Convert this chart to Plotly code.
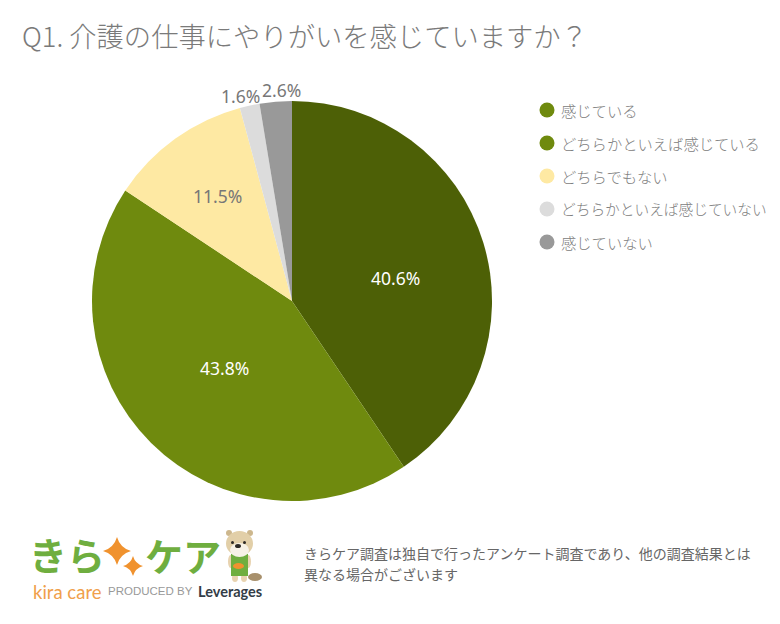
import plotly.graph_objects as go

W, H = 780, 624
FONT = "Noto Sans CJK JP"

labels = ["感じている", "どちらかといえば感じている", "どちらでもない", "どちらかといえば感じていない", "感じていない"]
values = [40.6, 43.8, 11.5, 1.6, 2.6]
slice_colors = ["#4d6006", "#6f8a0e", "#fee9a3", "#dcdcdc", "#999999"]
legend_colors = ["#6f8a0e", "#6f8a0e", "#fee9a3", "#dcdcdc", "#999999"]
legend_sizes = [15.3, 15.3, 15.3, 14.7, 15.3]
text_colors = ["#ffffff", "#ffffff", "#777777", "#777777", "#777777"]
label_x = [395, 225, 217, 240, 281]
label_y = [278, 368, 196, 96, 90]
title = "Q1. 介護の仕事にやりがいを感じていますか？"
note_lines = ["きらケア調査は独自で行ったアンケート調査であり、他の調査結果とは", "異なる場合がございます"]


# pixel position to paper coords
def px(x):
    return x / W


def py(y):
    return 1 - y / H


def note_text(x, y, text, size, color, anchor="left", weight=400, family=FONT):
    fig.add_annotation(x=px(x), y=py(y), xref="paper", yref="paper", text=text, showarrow=False,
                       xanchor=anchor, yanchor="middle", align="left",
                       font=dict(size=size, color=color, family=family, weight=weight))


def star(cx, cy, r, color):
    k = r * 0.22
    path = (f"M {px(cx)} {py(cy - r)} Q {px(cx + k)} {py(cy - k)} {px(cx + r)} {py(cy)} "
            f"Q {px(cx + k)} {py(cy + k)} {px(cx)} {py(cy + r)} "
            f"Q {px(cx - k)} {py(cy + k)} {px(cx - r)} {py(cy)} "
            f"Q {px(cx - k)} {py(cy - k)} {px(cx)} {py(cy - r)} Z")
    fig.add_shape(type="path", path=path, xref="paper", yref="paper", fillcolor=color, line_width=0)


def blob(x0, y0, x1, y1, color, kind="circle"):
    fig.add_shape(type=kind, xref="paper", yref="paper", x0=px(x0), x1=px(x1), y0=py(y0), y1=py(y1),
                  fillcolor=color, line_width=0)


fig = go.Figure(go.Pie(
    labels=labels,
    values=values,
    textinfo="none",
    marker=dict(colors=slice_colors, line_width=0),
    sort=False,
    direction="clockwise",
    rotation=0,
    showlegend=False,
    domain=dict(x=[px(92), px(492)], y=[py(501), py(101)]),
))

fig.update_layout(
    width=W, height=H,
    margin=dict(l=0, r=0, t=0, b=0),
    paper_bgcolor="#ffffff",
    font=dict(family=FONT, color="#777777"),
)

note_text(20, 35, title, 27.3, "#7a7a7a", weight=300)

# percent labels
for v, x, y, c in zip(values, label_x, label_y, text_colors):
    note_text(x, y, f"{v}%", 17.5, c, anchor="center", family="Noto Sans")

# legend
for i, (lab, c, s) in enumerate(zip(labels, legend_colors, legend_sizes)):
    yy = 110 + i * 33
    blob(539.5, yy - 7.5, 554.5, yy + 7.5, c)
    note_text(559, yy, lab, s, "#808080", weight=300)

# logo
note_text(27, 553, "きら", 38, "#6fae3f", weight=700)
note_text(143, 554, "ケア", 38, "#6fae3f", weight=700)
star(117, 551, 14, "#f0922e")
star(133, 566, 10, "#f0922e")
note_text(31, 592, "kira care", 18.5, "#f0a04b", family="Lato")
note_text(106, 591, "PRODUCED BY", 11.5, "#999999", family="Liberation Sans")
note_text(196, 591, "Leverages", 14.5, "#333d47", weight=700, family="Lato")

# otter
blob(248, 573, 262, 581, "#a8906c")
blob(232, 574, 238, 582, "#e8d3b0")
blob(241, 574, 247, 582, "#e8d3b0")
blob(228, 555, 233, 568, "#e8d3b0")
blob(246, 555, 251, 568, "#e8d3b0")
blob(231, 554, 248, 576, "#6fae3f", "rect")
blob(233, 563, 244, 569, "#f0922e")
blob(226, 530, 232, 536, "#cdb78d")
blob(247, 530, 253, 536, "#cdb78d")
blob(226, 531, 253, 556, "#e2cfa8")
blob(230, 543, 249, 557, "#f7f2e6")
blob(231, 541, 234, 544, "#2d2a26")
blob(243, 541, 246, 544, "#2d2a26")
blob(235, 544, 241, 548, "#2d2a26")

for i, line in enumerate(note_lines):
    note_text(302, 553 + i * 21, line, 14, "#666666")

# page has a default 8px body margin, drop it so the figure fills the window
fig.write_html("out.html", config=dict(displayModeBar=False),
               post_script="document.body.style.margin='0';")
